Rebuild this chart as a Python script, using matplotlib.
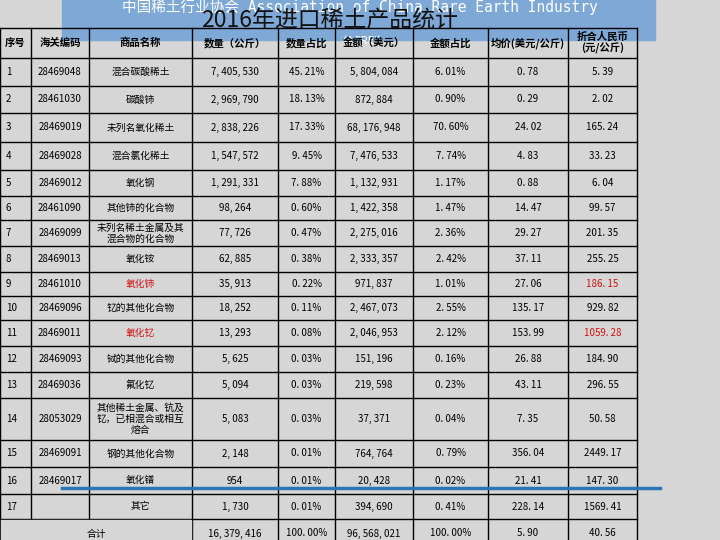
import matplotlib.pyplot as plt

plt.rcParams['font.family'] = ['Noto Sans CJK SC', 'DejaVu Sans']

headers = ["序号", "海关编码", "商品名称", "数量（公斤）", "数量占比", "金额（美元）",
           "金额占比", "均价(美元/公斤)", "折合人民币\n(元/公斤)"]
seq = [str(i) for i in range(1, 18)]
codes = ["28469048", "28461030", "28469019", "28469028", "28469012", "28461090",
         "28469099", "28469013", "28461010", "28469096", "28469011", "28469093",
         "28469036", "28053029", "28469091", "28469017", ""]
names = ["混合碳酸稀土", "碳酸铈", "未列名氧化稀土", "混合氯化稀土", "氧化钢", "其他铈的化合物",
         "未列名稀土金属及其\n混合物的化合物", "氧化铵", "氧化铈", "钇的其他化合物", "氧化钇",
         "铽的其他化合物", "氟化钇", "其他稀土金属、钪及\n钇，已相混合或相互\n熔合",
         "钢的其他化合物", "氧化镨", "其它"]
qty = ["7, 405, 530", "2, 969, 790", "2, 838, 226", "1, 547, 572", "1, 291, 331", "98, 264",
       "77, 726", "62, 885", "35, 913", "18, 252", "13, 293", "5, 625", "5, 094", "5, 083",
       "2, 148", "954", "1, 730"]
qty_pct = ["45. 21%", "18. 13%", "17. 33%", "9. 45%", "7. 88%", "0. 60%", "0. 47%", "0. 38%",
           "0. 22%", "0. 11%", "0. 08%", "0. 03%", "0. 03%", "0. 03%", "0. 01%", "0. 01%", "0. 01%"]
amount = ["5, 804, 084", "872, 884", "68, 176, 948", "7, 476, 533", "1, 132, 931", "1, 422, 358",
          "2, 275, 016", "2, 333, 357", "971, 837", "2, 467, 073", "2, 046, 953", "151, 196",
          "219, 598", "37, 371", "764, 764", "20, 428", "394, 690"]
amt_pct = ["6. 01%", "0. 90%", "70. 60%", "7. 74%", "1. 17%", "1. 47%", "2. 36%", "2. 42%",
           "1. 01%", "2. 55%", "2. 12%", "0. 16%", "0. 23%", "0. 04%", "0. 79%", "0. 02%", "0. 41%"]
price = ["0. 78", "0. 29", "24. 02", "4. 83", "0. 88", "14. 47", "29. 27", "37. 11", "27. 06",
         "135. 17", "153. 99", "26. 88", "43. 11", "7. 35", "356. 04", "21. 41", "228. 14"]
rmb = ["5. 39", "2. 02", "165. 24", "33. 23", "6. 04", "99. 57", "201. 35", "255. 25", "186. 15",
       "929. 82", "1059. 28", "184. 90", "296. 55", "50. 58", "2449. 17", "147. 30", "1569. 41"]
total = ["16, 379, 416", "100. 00%", "96, 568, 021", "100. 00%", "5. 90", "40. 56"]
red_rows = [8, 10]

col_x = [0, 31, 89, 192, 278, 335, 413, 488, 568, 637]
row_y = [28, 58, 86, 113, 142, 170, 196, 220, 246, 272, 296, 320, 346, 372, 398,
         440, 467, 494, 519, 548]

fig = plt.figure(figsize=(7.2, 5.4), dpi=100)
fig.patch.set_facecolor('#d6d6d6')
ax = fig.add_axes([0, 0, 1, 1])
ax.set_xlim(0, 720)
ax.set_ylim(540, 0)
ax.axis('off')

# banner
ax.add_patch(plt.Rectangle((62, 0), 593, 40, color='#7ea8d6', zorder=1))
ax.text(360, 7, "中国稀土行业协会 Association of China Rare Earth Industry",
        ha='center', va='center', color='white', fontsize=10.5,
        family=['DejaVu Sans Mono', 'Noto Sans CJK SC'], zorder=2)
ax.text(362, 41, "(ACREI)", ha='center', va='center', color='white', fontsize=8, zorder=2)
ax.text(330, 21, "2016年进口稀土产品统计", ha='center', va='center', color='#111111',
        fontsize=16.5, zorder=3)

# grid
for y in row_y:
    ax.plot([col_x[0], col_x[-1]], [y, y], color='black', lw=1, zorder=4)
for i, x in enumerate(col_x):
    ax.plot([x, x], [row_y[0], row_y[-1]], color='black', lw=1, zorder=4)
# mask inner lines of total row
ax.add_patch(plt.Rectangle((col_x[0] + 1, row_y[-2] + 1), col_x[3] - col_x[0] - 2,
                           row_y[-1] - row_y[-2] - 2, color='#d6d6d6', zorder=5))

def cell(ci, ri, s, color='black', bold=False, fs=7):
    ax.text((col_x[ci] + col_x[ci + 1]) / 2, (row_y[ri] + row_y[ri + 1]) / 2, s,
            ha='center', va='center', fontsize=fs, color=color, zorder=6,
            fontweight='bold' if bold else 'normal', linespacing=1.1)

for ci, h in enumerate(headers):
    cell(ci, 0, h, bold=True, fs=7.5)
for r in range(17):
    red = r in red_rows
    vals = [seq[r], codes[r], names[r], qty[r], qty_pct[r], amount[r], amt_pct[r], price[r], rmb[r]]
    for ci, v in enumerate(vals):
        c = '#d01010' if red and ci in (2, 8) else 'black'
        if ci == 0:
            ax.text(col_x[0] + 6, (row_y[r + 1] + row_y[r + 2]) / 2, v, ha='left',
                    va='center', fontsize=7, zorder=6)
        else:
            cell(ci, r + 1, v, color=c)
ax.text(96, (row_y[-2] + row_y[-1]) / 2 + 1, "合计", ha='center', va='center', fontsize=7, zorder=6)
for k, v in enumerate(total):
    cell(3 + k, 18, v)

ax.plot([62, 660], [488, 488], color='#2e75b6', lw=2.5, zorder=7)

fig.savefig('out.png', dpi=100, facecolor=fig.get_facecolor())
